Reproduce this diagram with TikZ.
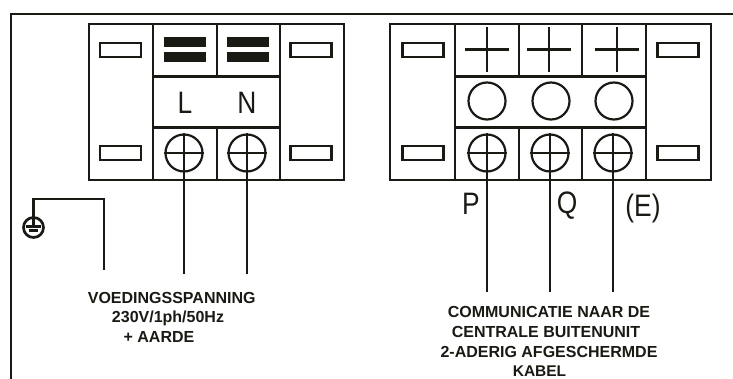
\documentclass[tikz,border=0pt]{standalone}
\usepackage{fontspec}
\setmainfont{Liberation Sans}
\newfontfamily\thinfont[FakeStretch=0.85]{Liberation Sans}
\usetikzlibrary{positioning, shapes.geometric}
\definecolor{ink}{HTML}{1A1A14}

\begin{document}
\begin{tikzpicture} [x=1pt, y=-1pt, line width=2.2pt, color=ink,
    cell/.style={rectangle, draw, inner sep=0, outer sep=0},
    slot/.style={rectangle, draw, inner sep=0, minimum width=41, minimum height=14},
    bar/.style={rectangle, fill, inner sep=0, minimum width=42, minimum height=10},
    plus/.style={rectangle, inner sep=0, minimum width=42, minimum height=43},
    screw/.style={circle, draw, inner sep=0, minimum size=37},
    earth/.style={circle, draw, inner sep=0, minimum size=20, line width=2.7pt},
    letter/.style={font=\fontsize{31}{31}\thinfont, inner sep=0},
    note/.style={font=\fontsize{16}{16}\selectfont\bfseries, inner sep=0}]
  \useasboundingbox (0,0) rectangle (733,379);

  % frame
  \draw (11,379) coordinate(fbl);
  \draw (11,14)  coordinate(ftl);
  \draw (733,14) coordinate(ftr);
  \draw[line width=2.4pt] (fbl) -- (ftl) -- (ftr);

  % power terminal
  \draw (121,102)   node[cell, minimum width=64, minimum height=156](lsl) {};
  \draw (312,102)   node[cell, minimum width=64, minimum height=156](lsr) {};
  \draw (185,50.25) node[cell, minimum width=64, minimum height=52.5](ltl)  {};
  \draw (248.5,50.25) node[cell, minimum width=63, minimum height=52.5](ltn)  {};
  \draw (216.5,102) node[cell, minimum width=127, minimum height=51](lmid) {};
  \draw (185,153.75) node[cell, minimum width=64, minimum height=52.5](lbl)  {};
  \draw (248.5,153.75) node[cell, minimum width=63, minimum height=52.5](lbn) {};

  \draw (120.5,50)  node[slot](s1) {};
  \draw (120.5,153) node[slot](s2) {};
  \draw (311,50)    node[slot](s3) {};
  \draw (311,153)   node[slot](s4) {};

  \draw (185,42)  node[bar](b1) {};
  \draw (185,57)  node[bar](b2) {};
  \draw (248,42)  node[bar](b3) {};
  \draw (248,57)  node[bar](b4) {};

  \draw (185,103) node[letter](lbL) {L};
  \draw (247,103) node[letter](lbN) {N};

  \draw (184,153) node[screw](scL) {};
  \draw (247,153) node[screw](scN) {};

  % bus terminal
  \draw (422.5,102) node[cell, minimum width=65, minimum height=156](rsl) {};
  \draw (678.5,102) node[cell, minimum width=65, minimum height=156](rsr) {};
  \draw (487,50.25)   node[cell, minimum width=64, minimum height=52.5](rt1) {};
  \draw (550.5,50.25) node[cell, minimum width=63, minimum height=52.5](rt2) {};
  \draw (614,50.25)   node[cell, minimum width=64, minimum height=52.5](rt3) {};
  \draw (550.5,102) node[cell, minimum width=191, minimum height=51](rmid) {};
  \draw (487,153.75)   node[cell, minimum width=64, minimum height=52.5](rb1) {};
  \draw (550.5,153.75) node[cell, minimum width=63, minimum height=52.5](rb2) {};
  \draw (614,153.75)   node[cell, minimum width=64, minimum height=52.5](rb3) {};

  \draw (423,50)  node[slot](s5) {};
  \draw (423,153) node[slot](s6) {};
  \draw (678,50)  node[slot](s7) {};
  \draw (678,153) node[slot](s8) {};

  \draw (487,49.5) node[plus](p1) {};
  \draw (549,49.5) node[plus](p2) {};
  \draw (617,49.5) node[plus](p3) {};

  \draw (487,101) node[screw](c1) {};
  \draw (551,101) node[screw](c2) {};
  \draw (614,101) node[screw](c3) {};

  \draw (487,153) node[screw](scP) {};
  \draw (550,153) node[screw](scQ) {};
  \draw (613,153) node[screw](scE) {};

  \draw (471,204) node[letter](lbP) {P};
  \draw (567,206) node[letter](lbQ) {Q};
  \draw (643,208) node[letter](lbE) {(E)};

  % wire ends
  \draw (184,274)   coordinate(wL);
  \draw (247,274)   coordinate(wN);
  \draw (487,292)   coordinate(wP);
  \draw (550,292)   coordinate(wQ);
  \draw (613,292)   coordinate(wE);
  \draw (104,270)   coordinate(wA);
  \draw (33.5,199)  coordinate(wB);
  \draw (104,199)   coordinate(wC);

  % earth
  \draw (33.5,227.5) node[earth](gnd) {};
  \draw (26,226.5) coordinate(g1a);  \draw (41,226.5) coordinate(g1b);
  \draw (29,230.5) coordinate(g2a);  \draw (38,230.5) coordinate(g2b);

  \path (p1.west) edge (p1.east)  (p1.north) edge (p1.south)
        (p2.west) edge (p2.east)  (p2.north) edge (p2.south)
        (p3.west) edge (p3.east)  (p3.north) edge (p3.south)
        (scL.west) edge (scL.east)  (scL.north) edge (wL)
        (scN.west) edge (scN.east)  (scN.north) edge (wN)
        (scP.west) edge (scP.east)  (scP.north) edge (wP)
        (scQ.west) edge (scQ.east)  (scQ.north) edge (wQ)
        (scE.west) edge (scE.east)  (scE.north) edge (wE);

  \draw (wA) -- (wC) -- (wB) -- (gnd.center);
  \draw (g1a) -- (g1b);
  \draw[line width=2.5pt] (g2a) -- (g2b);

  % texts
  \draw (171.7,298) node[note](t1) {VOEDINGSSPANNING};
  \draw (168,318)   node[note](t2) {230V/1ph/50Hz};
  \draw (159,337)   node[note](t3) {+ AARDE};

  \draw (549,311.5) node[note](t4) {COMMUNICATIE NAAR DE};
  \draw (546,332)   node[note](t5) {CENTRALE BUITENUNIT};
  \draw (549,352)   node[note](t6) {2-ADERIG AFGESCHERMDE};
  \draw (539.5,371.5) node[note, font=\fontsize{15.5}{15.5}\selectfont\bfseries](t7) {KABEL};
\end{tikzpicture}
\end{document}
